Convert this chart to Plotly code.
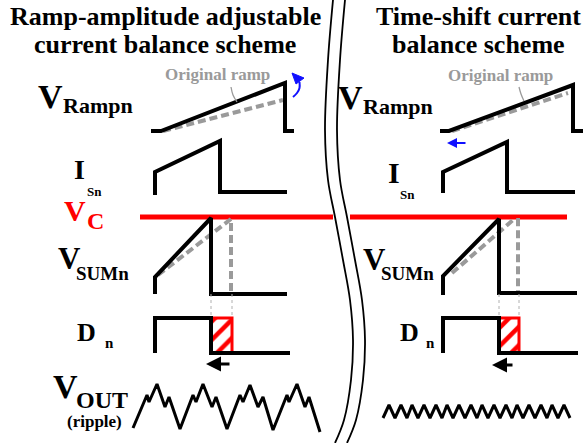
import plotly.graph_objects as go

W, H = 584, 443
SERIF = "Times New Roman, Liberation Serif, DejaVu Serif, serif"
BLACK = "#000000"
RED = "#ff0000"
GRAY = "#9a9a9a"
BLUE = "#1010ff"

# ---- waveform vertices (x, y), y grows downward ----
# left panel: ramp-amplitude adjustable scheme
ramp_l_x = [151, 161, 285, 285, 294]
ramp_l_y = [131, 131, 83, 131, 131]
ramp_l_orig_x = [163, 283]
ramp_l_orig_y = [131, 100]
isn_l_x = [155, 155, 220, 220, 287]
isn_l_y = [195, 172, 141, 192, 192]
sum_l_x = [155, 155, 211, 211, 287]
sum_l_y = [294, 277, 218, 294, 294]
sum_l_orig_x = [158, 231, 231]
sum_l_orig_y = [275, 219, 294]
dn_l_x = [155, 155, 211, 211, 290]
dn_l_y = [353, 318, 318, 353, 353]
dn_l_box_x = [211, 232]
vout_l_x = [133, 147, 149, 157, 165, 169, 180,
            193, 196, 203, 212, 216, 227,
            240, 243, 250, 258, 263, 273,
            287, 289, 297, 305, 309, 320]
vout_l_y = [428, 395, 402, 384, 407, 397, 429,
            395, 402, 384, 407, 397, 429,
            395, 402, 385, 407, 397, 430,
            395, 402, 384, 407, 397, 432]

# right panel: time-shift scheme
ramp_r_x = [440, 449, 573, 573, 583]
ramp_r_y = [131, 131, 85, 131, 131]
ramp_r_orig_x = [452, 568]
ramp_r_orig_y = [131, 93]
isn_r_x = [443, 443, 507, 507, 575]
isn_r_y = [193, 172, 142, 192, 192]
sum_r_x = [443, 443, 499, 499, 577]
sum_r_y = [295, 276, 219, 293, 293]
sum_r_orig_x = [452, 508, 513, 518, 518]
sum_r_orig_y = [273, 224, 220, 220, 294]
dn_r_x = [443, 443, 499, 499, 578]
dn_r_y = [353, 318, 318, 353, 353]
dn_r_box_x = [499, 519]
vout_r_x = [383, 389, 395, 401, 407, 412, 418, 424, 430, 436, 442, 447,
            453, 459, 465, 471, 477, 482, 488, 494, 500, 506, 512, 517,
            523, 529, 535, 541, 547, 552, 558, 564, 570]
vout_r_y = [418, 405, 418, 405, 418, 405, 418, 405, 418, 405, 418, 405,
            418, 405, 418, 405, 418, 405, 418, 405, 418, 405, 418, 405,
            418, 405, 418, 405, 418, 405, 418, 405, 418]

# control voltage level and the panel divider
vc_level = 217
vc_l_x = [140, 333]
vc_r_x = [350, 567]
divider_y = [0, 60, 130, 180, 217, 260, 300, 340, 380, 420, 443]
divider_a_x = [333, 328, 325, 328, 335, 343, 350, 353, 351, 344, 335]
divider_b_x = [345, 340, 337, 340, 347, 355, 362, 365, 363, 356, 347]

fig = go.Figure()


def line(xs, ys, color=BLACK, width=4, dash=None, shape="linear"):
    fig.add_trace(go.Scatter(
        x=xs, y=ys, mode="lines", hoverinfo="skip",
        line=dict(color=color, width=width, dash=dash, shape=shape)))


def label(text, x, y, size, color=BLACK, anchor="left"):
    fig.add_annotation(
        x=x, y=y, xref="x", yref="y", text=text,
        showarrow=False, xanchor=anchor, yanchor="middle",
        font=dict(family=SERIF, size=size, color=color, weight="bold"),
        borderpad=0, borderwidth=0)


def arrow(x_tip, x_tail, y, color, width):
    fig.add_annotation(
        x=x_tip, y=y, ax=x_tail, ay=y, xref="x", yref="y",
        axref="x", ayref="y", text="", showarrow=True,
        arrowhead=2, arrowsize=1, arrowwidth=width, arrowcolor=color)


def hatched_box(x0, x1, y0, y1):
    fig.add_trace(go.Scatter(
        x=[x0, x1, x1, x0, x0], y=[y0, y0, y1, y1, y0], mode="lines",
        fill="toself", fillcolor="white", hoverinfo="skip",
        fillpattern=dict(shape="/", fgcolor=RED, fgopacity=1,
                         bgcolor="white", size=13, solidity=0.35),
        line=dict(color=RED, width=3)))


# divider between the two schemes
line(divider_a_x, divider_y, width=1.8, shape="spline")
line(divider_b_x, divider_y, width=1.8, shape="spline")

# V_C reference level
line(vc_l_x, [vc_level, vc_level], color=RED, width=5)
line(vc_r_x, [vc_level, vc_level], color=RED, width=5)

for side in ("l", "r"):
    g = globals()
    # original ramp (dashed) under the modified one
    line(g[f"ramp_{side}_orig_x"], g[f"ramp_{side}_orig_y"],
         color=GRAY, width=4, dash="8px,4px")
    line(g[f"ramp_{side}_x"], g[f"ramp_{side}_y"])
    line(g[f"isn_{side}_x"], g[f"isn_{side}_y"])
    line(g[f"sum_{side}_orig_x"], g[f"sum_{side}_orig_y"],
         color=GRAY, width=4, dash="8px,4px")
    line(g[f"sum_{side}_x"], g[f"sum_{side}_y"])
    bx = g[f"dn_{side}_box_x"]
    for xv in bx:
        line([xv, xv], [294, 318], color="#b0b0b0", width=1, dash="3px,3px")
    hatched_box(bx[0], bx[1], 318, 353)
    line(g[f"dn_{side}_x"], g[f"dn_{side}_y"])
    line(g[f"vout_{side}_x"], g[f"vout_{side}_y"], width=3)

# leader curves for the "Original ramp" notes
line([231, 233, 237], [87, 95, 102], color=GRAY, width=1.3, shape="spline")
line([519, 521, 524], [87, 94, 101], color=GRAY, width=1.3, shape="spline")

# blue amplitude-adjust arc on the left ramp
line([293, 297, 299.5, 299.5], [97, 93, 88, 82], color=BLUE, width=2,
     shape="spline")
fig.add_trace(go.Scatter(
    x=[292, 304, 296, 292], y=[73, 78, 84, 73], mode="lines",
    fill="toself", fillcolor=BLUE, line=dict(color=BLUE, width=1),
    hoverinfo="skip"))

# shift arrows
arrow(447, 467, 143, BLUE, 2)
arrow(206, 231, 364, BLACK, 3)
arrow(492, 514, 365, BLACK, 3)

# titles
label("Ramp-amplitude adjustable", 165, 16, 26, anchor="center")
label("current balance scheme", 165, 44, 26, anchor="center")
label("Time-shift current", 478, 16, 26, anchor="center")
label("balance scheme", 478, 44, 26, anchor="center")
label("Original ramp", 217, 74, 17, color=GRAY, anchor="center")
label("Original ramp", 500, 75, 17, color=GRAY, anchor="center")

# left signal names
label("V", 38, 96, 34)
label("Rampn", 63, 105, 22)
label("I", 74, 169, 28)
label("Sn", 87, 191, 13)
label("V", 64, 210, 30, color=RED)
label("C", 87, 221, 24, color=RED)
label("V", 58, 258, 31)
label("SUMn", 76, 273, 19)
label("D", 77, 332, 26)
label("n", 105, 343, 15)
label("V", 53, 386, 34)
label("OUT", 76, 400, 24)
label("(ripple)", 94, 421, 17, anchor="center")

# right signal names
label("V", 338, 97, 34)
label("Rampn", 363, 106, 22)
label("I", 388, 172, 30)
label("Sn", 400, 194, 13)
label("V", 363, 259, 31)
label("SUMn", 381, 273, 19)
label("D", 400, 332, 26)
label("n", 426, 343, 15)

fig.update_layout(
    width=W, height=H, margin=dict(l=0, r=0, t=0, b=0),
    paper_bgcolor="white", plot_bgcolor="white", showlegend=False,
    xaxis=dict(range=[0, W], visible=False, fixedrange=True),
    yaxis=dict(range=[H, 0], visible=False, fixedrange=True),
)

fig.write_html("out.html")
